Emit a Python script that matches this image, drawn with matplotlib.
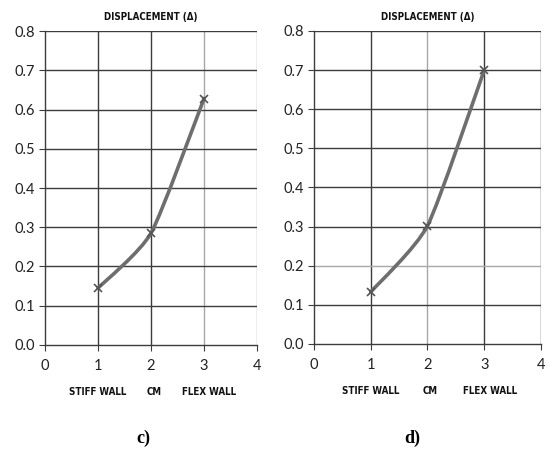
import matplotlib
matplotlib.use("Agg")
import matplotlib.pyplot as plt
import numpy as np
from matplotlib.path import Path
from matplotlib.patches import PathPatch

# data
positions = [1, 2, 3]
categories = ["STIFF WALL", "CM", "FLEX WALL"]
disp_c = [0.145, 0.285, 0.628]
disp_d = [0.133, 0.302, 0.700]
panel_labels = ["c)", "d)"]

plt.rcParams['font.family'] = ['Lato', 'DejaVu Sans']

DARK = '#3c3c3c'
LIGHT = '#a8a8a8'
LINE = '#6e6e6e'


def smooth_path(xs, ys, t=0.3):
    # excel-like smoothed line: catmull-rom turned into bezier segments
    xs = np.asarray(xs, float)
    ys = np.asarray(ys, float)
    n = len(xs)
    verts = [(xs[0], ys[0])]
    codes = [Path.MOVETO]
    for i in range(n - 1):
        p0 = np.array([xs[max(i - 1, 0)], ys[max(i - 1, 0)]])
        p1 = np.array([xs[i], ys[i]])
        p2 = np.array([xs[i + 1], ys[i + 1]])
        p3 = np.array([xs[min(i + 2, n - 1)], ys[min(i + 2, n - 1)]])
        c1 = p1 + (p2 - p0) * t / 3
        c2 = p2 - (p3 - p1) * t / 3
        verts += [tuple(c1), tuple(c2), tuple(p2)]
        codes += [Path.CURVE4] * 3
    return Path(verts, codes)


def draw_panel(ax, values, vcolors, hcolors):
    ax.set_xlim(0, 4)
    ax.set_ylim(0, 0.8)
    for x, c in zip([1, 2, 3, 4], vcolors):
        ax.axvline(x, color=c, lw=1.0, zorder=1)
    for y, c in zip(np.arange(0.1, 0.81, 0.1), hcolors):
        ax.axhline(y, color=c, lw=1.0, zorder=1)
    for s in ['top', 'right']:
        ax.spines[s].set_visible(False)
    for s in ['left', 'bottom']:
        ax.spines[s].set_color(DARK)
        ax.spines[s].set_linewidth(1.0)
    ax.set_xticks([0, 1, 2, 3, 4])
    ax.set_yticks(np.arange(0, 0.81, 0.1))
    ax.set_yticklabels(["%.1f" % v for v in np.arange(0, 0.81, 0.1)])
    ax.tick_params(axis='both', length=4, color=DARK, labelsize=10.5,
                   labelcolor='#222222', pad=3)
    ax.tick_params(axis='x', pad=6)

    ax.add_patch(PathPatch(smooth_path(positions, values), fill=False,
                           edgecolor=LINE, lw=2.6, zorder=3,
                           capstyle='round', joinstyle='round'))
    ax.plot(positions, values, ls='none', marker='x', ms=5.5, mew=1.2,
            color='#555555', zorder=4)

    for p, name in zip(positions, categories):
        ax.text(p + 0.05 * (p - 1), -0.12, name, transform=ax.transData,
                ha='center', va='center', fontsize=7, fontweight='bold',
                family='DejaVu Sans', fontstretch='condensed',
                color='#111111', clip_on=False)
    ax.set_title("DISPLACEMENT (Δ)", fontsize=7, fontweight='bold',
                 family='DejaVu Sans', fontstretch='condensed',
                 color='#111111', pad=8)


fig = plt.figure(figsize=(5.47, 4.55), dpi=100)
ax1 = fig.add_axes([0.0823, 0.2418, 0.3876, 0.690])
ax2 = fig.add_axes([0.574, 0.244, 0.415, 0.688])

draw_panel(ax1, disp_c, [DARK, DARK, LIGHT, LIGHT], [DARK] * 8)
draw_panel(ax2, disp_d, [DARK, LIGHT, DARK, DARK],
           [DARK, LIGHT, DARK, DARK, DARK, DARK, DARK, DARK])

# panel letters under each chart
for xf, lab in zip([0.262, 0.753], panel_labels):
    fig.text(xf, 1 - 438 / 455, lab, ha='center', va='center', fontsize=13,
             fontweight='bold', family='Liberation Serif')

fig.savefig("out.png", dpi=100)
